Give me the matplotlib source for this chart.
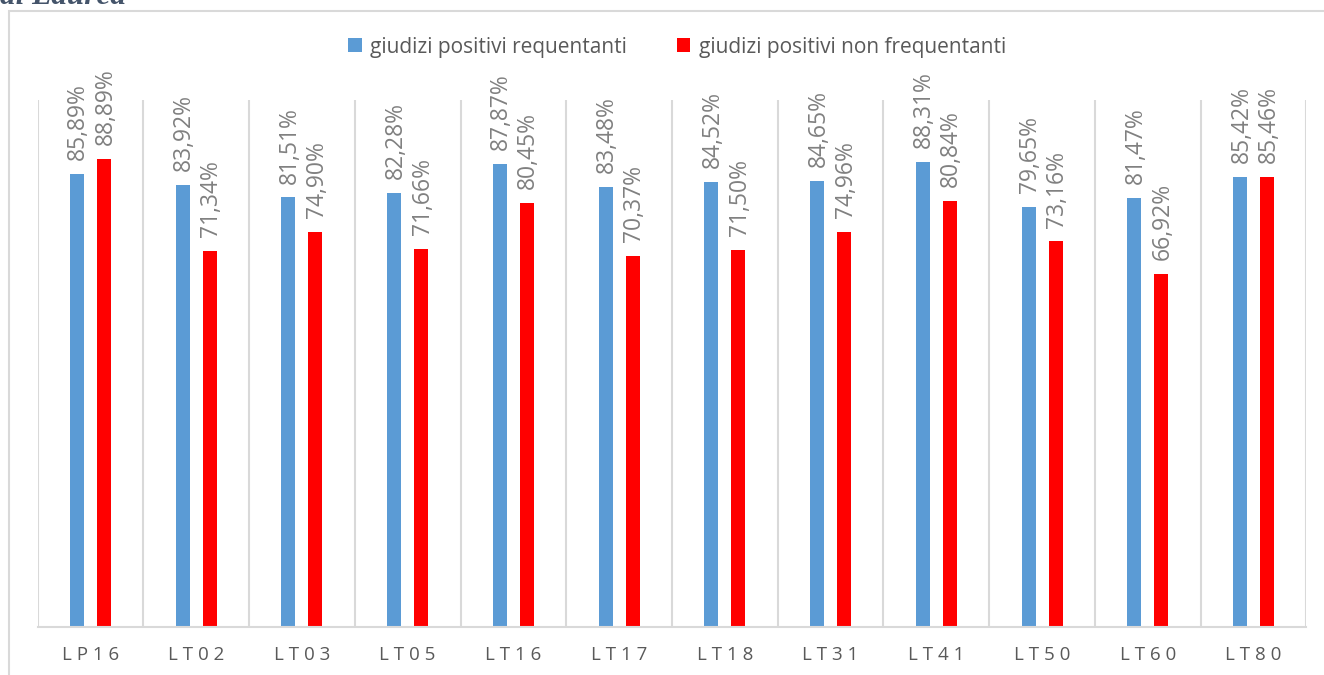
import matplotlib.pyplot as plt
import matplotlib.patches as mpatches
import numpy as np

plt.rcParams['font.family'] = ['Open Sans', 'DejaVu Sans']

categories = ["LP16", "LT02", "LT03", "LT05", "LT16", "LT17",
              "LT18", "LT31", "LT41", "LT50", "LT60", "LT80"]
frequentanti = [85.89, 83.92, 81.51, 82.28, 87.87, 83.48,
                84.52, 84.65, 88.31, 79.65, 81.47, 85.42]
non_frequentanti = [88.89, 71.34, 74.90, 71.66, 80.45, 70.37,
                    71.50, 74.96, 80.84, 73.16, 66.92, 85.46]
series_names = ["giudizi positivi requentanti", "giudizi positivi non frequentanti"]

blue = "#5B9BD5"
red = "#FF0000"
grid_col = "#D9D9D9"

W, H = 1324, 675
fig = plt.figure(figsize=(W / 100, H / 100), dpi=100)

# outer chart frame (runs off the right/bottom edges)
frame = mpatches.Rectangle((9 / W, -0.05), 1.1, 1 - 11 / H + 0.05,
                           transform=fig.transFigure, fill=False,
                           edgecolor=grid_col, linewidth=1.5)
fig.patches.append(frame)

# cut-off title from the page above
fig.text(0, 1 - 4 / H, "di Laurea", family="Liberation Serif",
         weight="bold", style="italic", fontsize=22.5, color="#44546A",
         ha="left", va="baseline")

left, right = 37.6 / W, 1306.4 / W
bottom, top = 1 - 627 / H, 1 - 100 / H
ax = fig.add_axes([left, bottom, right - left, top - bottom])

x = np.arange(len(categories))
bw = 0.132
off = 0.128
b1 = ax.bar(x - off, frequentanti, bw, color=blue, label=series_names[0])
b2 = ax.bar(x + off, non_frequentanti, bw, color=red, label=series_names[1])

for bars, vals in ((b1, frequentanti), (b2, non_frequentanti)):
    for rect, v in zip(bars, vals):
        ax.annotate(f"{v:.2f}%".replace(".", ","),
                    (rect.get_x() + rect.get_width() / 2, v),
                    xytext=(1, 10), textcoords="offset points",
                    rotation=90, ha="center", va="bottom",
                    fontsize=16.5, color="#808080")

ax.set_xlim(-0.5, len(categories) - 0.5)
ax.set_ylim(0, 100)
ax.set_yticks([])
for b in np.arange(-0.5, len(categories), 1):
    ax.axvline(b, color=grid_col, linewidth=1.5, zorder=0)

ax.set_xticks(x)
ax.set_xticklabels([" ".join(c) for c in categories], fontsize=13.5,
                   color="#595959")
ax.tick_params(axis="x", length=0, pad=14)
for s in ["top", "left", "right"]:
    ax.spines[s].set_visible(False)
ax.spines["bottom"].set_color(grid_col)
ax.spines["bottom"].set_linewidth(1.5)

fig.legend(handles=[b1, b2], loc="center", bbox_to_anchor=(677 / W, 1 - 47 / H),
           ncol=2, frameon=False, fontsize=15, handlelength=0.65,
           handleheight=0.65, handletextpad=0.4, columnspacing=2.4,
           labelcolor="#595959")

fig.savefig("out.png", dpi=100)
